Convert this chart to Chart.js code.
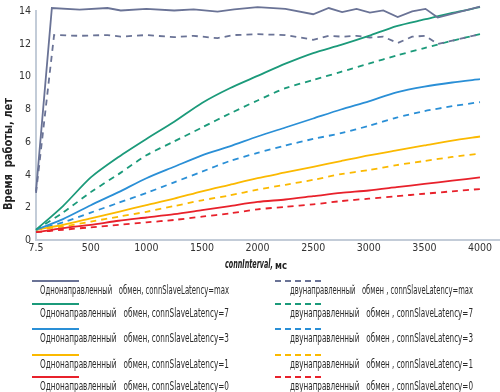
<!DOCTYPE html>
<html>
<head>
<meta charset="utf-8">
<script src="https://cdn.jsdelivr.net/npm/chart.js@4/dist/chart.umd.min.js"></script>
<style>
  html, body { margin: 0; padding: 0; background: #fff; }
  #wrap { width: 500px; height: 392px; position: relative; }
</style>
</head>
<body>
<div id="wrap"><canvas id="chart"></canvas></div>
<script>
// connInterval, ms
const xs = [7.5, 250, 500, 750, 1000, 1250, 1500, 1750, 2000, 2250, 2500, 2750, 3000, 3250, 3500, 3750, 4000];
const xTicks = [7.5, 500, 1000, 1500, 2000, 2500, 3000, 3500, 4000];

// connSlaveLatency=max has its own points (zigzag)
const xsMaxOne = [7.5, 150, 400, 650, 770, 1000, 1250, 1425, 1640, 1790, 2000, 2250, 2500, 2640, 2760, 2890, 3010, 3130, 3260, 3390, 3510, 3620, 4000];
const oneMax = [3.0, 14.2, 14.1, 14.2, 14.05, 14.15, 14.05, 14.12, 13.98, 14.12, 14.25, 14.15, 13.82, 14.2, 13.95, 14.15, 13.92, 14.05, 13.65, 14.0, 14.15, 13.62, 14.28];
const xsMaxTwo = [7.5, 170, 400, 650, 770, 1000, 1250, 1425, 1640, 1790, 2000, 2250, 2500, 2640, 2760, 2890, 3010, 3130, 3260, 3390, 3510, 3620, 4000];
const twoMax = [2.9, 12.55, 12.5, 12.55, 12.45, 12.55, 12.42, 12.5, 12.36, 12.55, 12.6, 12.55, 12.26, 12.5, 12.45, 12.5, 12.4, 12.45, 12.06, 12.45, 12.5, 12.0, 12.6];

// одн. обмен (solid)
const one7 = [0.65, 2.1, 3.85, 5.1, 6.2, 7.25, 8.4, 9.3, 10.05, 10.8, 11.45, 11.95, 12.5, 13.1, 13.5, 13.9, 14.25];
const one3 = [0.65, 1.3, 2.15, 2.95, 3.8, 4.5, 5.2, 5.75, 6.35, 6.9, 7.45, 8.0, 8.5, 9.05, 9.4, 9.65, 9.85];
const one1 = [0.65, 0.95, 1.35, 1.75, 2.15, 2.55, 3.0, 3.4, 3.8, 4.15, 4.5, 4.85, 5.2, 5.5, 5.8, 6.1, 6.35];
const one0 = [0.5, 0.75, 0.95, 1.2, 1.4, 1.6, 1.85, 2.1, 2.35, 2.5, 2.7, 2.9, 3.05, 3.25, 3.45, 3.65, 3.85];
// двун. обмен (dashed)
const two7 = [0.65, 1.7, 2.95, 4.05, 5.2, 6.05, 6.9, 7.75, 8.55, 9.3, 9.8, 10.3, 10.8, 11.3, 11.75, 12.2, 12.6];
const two3 = [0.65, 1.1, 1.7, 2.3, 2.9, 3.55, 4.2, 4.85, 5.35, 5.8, 6.2, 6.55, 7.0, 7.5, 7.9, 8.2, 8.45];
const two1 = [0.65, 0.85, 1.15, 1.45, 1.75, 2.1, 2.45, 2.75, 3.1, 3.4, 3.7, 4.05, 4.3, 4.6, 4.85, 5.1, 5.3];
const two0 = [0.5, 0.65, 0.8, 0.95, 1.1, 1.25, 1.45, 1.65, 1.9, 2.05, 2.2, 2.4, 2.55, 2.7, 2.85, 3.0, 3.14];

const latencies = ['max', '7', '3', '1', '0'];
const colors = ['#6a7396', '#1b9a7a', '#2a8fd6', '#fbb900', '#e8212b'];

const FONT = "'Liberation Sans Narrow', 'DejaVu Sans Condensed', 'Liberation Sans', Arial, sans-serif";

function pts(xv, yv) {
    return xv.map((x, i) => ({ x: x, y: yv[i] }));
}

const solidData = [pts(xsMaxOne, oneMax), pts(xs, one7), pts(xs, one3), pts(xs, one1), pts(xs, one0)];
const dashedData = [pts(xsMaxTwo, twoMax), pts(xs, two7), pts(xs, two3), pts(xs, two1), pts(xs, two0)];

const datasets = [];
solidData.forEach((d, i) => {
    datasets.push({
        label: 'Однонаправленный   обмен, connSlaveLatency=' + latencies[i],
        data: d, borderColor: colors[i], borderWidth: 1.8,
        tension: i === 0 ? 0 : 0.25
    });
});
dashedData.forEach((d, i) => {
    datasets.push({
        label: 'двунаправленный   обмен , connSlaveLatency=' + latencies[i],
        data: d, borderColor: colors[i], borderWidth: 1.8, borderDash: [6, 5],
        tension: i === 0 ? 0 : 0.25
    });
});

// squeeze a text horizontally to a given width (reference uses a condensed face)
function squeezed(ctx, text, x, y, width) {
    const w = ctx.measureText(text).width;
    ctx.save();
    ctx.translate(x, y);
    ctx.scale(width / w, 1);
    ctx.fillText(text, 0, 0);
    ctx.restore();
}

// legend in two columns + axis titles
const rowsY = [281, 304, 329, 355, 377];
const extras = {
    id: 'extras',
    afterDraw(chart) {
        const ctx = chart.ctx;
        ctx.save();
        ctx.textBaseline = 'middle';
        chart.data.datasets.forEach((ds, i) => {
            const col = i < 5 ? 0 : 1;
            const y = rowsY[i % 5];
            const x0 = col === 0 ? 32 : 275;
            const tx = col === 0 ? 40 : 290;
            ctx.strokeStyle = ds.borderColor;
            ctx.lineWidth = 2;
            ctx.setLineDash(col === 0 ? [] : [6, 4]);
            ctx.beginPath();
            ctx.moveTo(x0, y);
            ctx.lineTo(x0 + 47, y);
            ctx.stroke();
            ctx.setLineDash([]);
            ctx.fillStyle = '#2a2a2a';
            ctx.font = '11.5px ' + FONT;
            ctx.textAlign = 'left';
            squeezed(ctx, ds.label, tx, y + 10, col === 0 ? 189 : 183);
        });

        // x title: "connInterval, мс"
        ctx.fillStyle = '#222';
        ctx.textAlign = 'left';
        ctx.font = 'italic bold 13px ' + FONT;
        squeezed(ctx, 'connInterval,', 225, 265, 48);
        ctx.font = 'bold 11px ' + FONT;
        squeezed(ctx, 'мс', 275, 266, 12);

        // y title
        ctx.save();
        ctx.translate(9, 154);
        ctx.rotate(-Math.PI / 2);
        ctx.textAlign = 'center';
        ctx.font = 'bold 13px ' + FONT;
        const t = 'Время  работы, лет';
        const w = ctx.measureText(t).width;
        ctx.scale(112 / w, 1);
        ctx.fillText(t, 0, 0);
        ctx.restore();
        ctx.restore();
    }
};

const ctx = document.getElementById('chart').getContext('2d');
const chart = new Chart(ctx, {
    type: 'line',
    data: { datasets: datasets },
    options: {
        responsive: true,
        maintainAspectRatio: false,
        animation: false,
        layout: { padding: { left: 14, right: 0, top: -12, bottom: 135 } },
        elements: { point: { radius: 0 } },
        datasets: { line: { clip: false } },
        plugins: { legend: { display: false }, tooltip: { enabled: false } },
        scales: {
            x: {
                type: 'linear', min: 7.5, max: 4180,
                afterBuildTicks: axis => { axis.ticks = xTicks.map(v => ({ value: v })); },
                grid: { display: false, drawTicks: false },
                border: { display: true, color: '#c3ccd8', width: 2 },
                ticks: { color: '#333', font: { family: FONT, size: 10.5 }, padding: 2, maxRotation: 0,
                    callback: v => String(v) }
            },
            y: {
                min: 0, max: 14,
                grid: { display: false, drawTicks: false },
                border: { display: true, color: '#c3ccd8', width: 2 },
                ticks: { stepSize: 2, color: '#333', font: { family: FONT, size: 10.5 }, padding: 5 }
            }
        }
    },
    plugins: [extras]
});
</script>
</body>
</html>
